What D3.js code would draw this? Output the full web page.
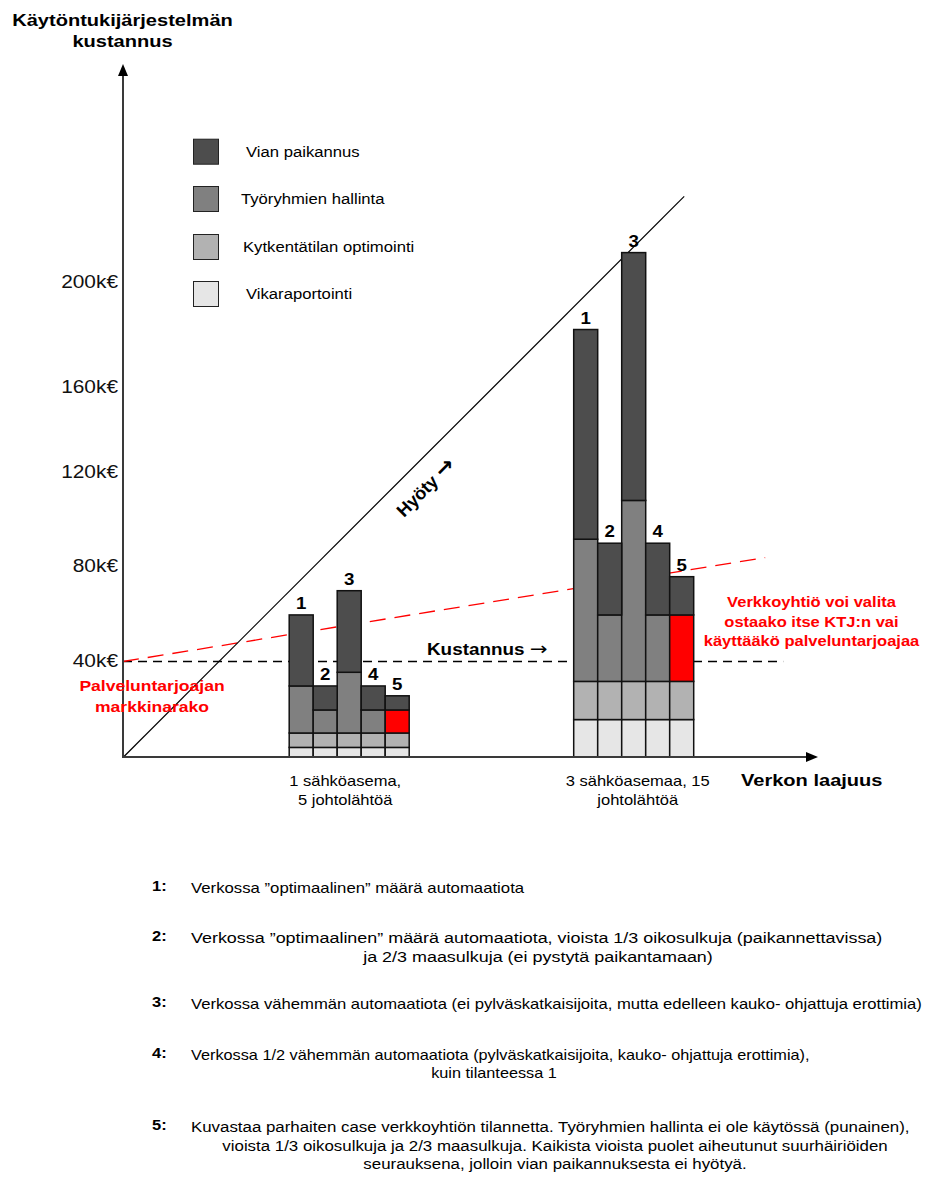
<!DOCTYPE html>
<html>
<head>
<meta charset="utf-8">
<script src="https://cdn.jsdelivr.net/npm/d3@7"></script>
<style>
  html, body { margin: 0; padding: 0; background: #fff; }
  svg { display: block; font-family: "Liberation Sans", Arial, sans-serif; }
</style>
</head>
<body>
<script>
// Network size groups and automation cases
const groups = ["1 sähköasema, 5 johtolähtöä", "3 sähköasemaa, 15 johtolähtöä"];
const groupLines = [["1 sähköasema,", "5 johtolähtöä"], ["3 sähköasemaa, 15", "johtolähtöä"]];
const cases = ["1", "2", "3", "4", "5"];

// Cost components, stacked bottom to top
const series = ["Vikaraportointi", "Kytkentätilan optimointi", "Työryhmien hallinta", "Vian paikannus"];
const legendOrder = ["Vian paikannus", "Työryhmien hallinta", "Kytkentätilan optimointi", "Vikaraportointi"];

// Cost (k€) per case 1..5, one array per group and component
const vikaraportointi = [[4, 4, 4, 4, 4], [15.6, 15.6, 15.6, 15.6, 15.6]];
const kytkentatila = [[6, 6, 6, 6, 6], [15.9, 15.9, 15.9, 15.9, 15.9]];
const tyoryhmat = [[19.6, 9.6, 25.3, 9.6, 9.6], [59.9, 27.9, 76.4, 27.9, 27.9]];
const vianPaikannus = [[29.8, 10, 34.3, 10, 5.9], [90.5, 30.3, 103.3, 30.3, 16.1]];
// Case 5: work-crew management not in use (drawn red)
const redCase = "5";

// Value axis ticks (k€)
const yTicks = [40, 80, 120, 160, 200];

// Reference lines on the network-size axis (0..100) vs cost (k€)
const hyotyLine = [[0, 0], [81.1, 232.8]];
const palveluLine = [[0, 40], [92.8, 83.8]];
const kustannusLine = [[0, 40], [95.4, 40]];

const footnotes = [
  { n: "1:", lines: ["Verkossa ”optimaalinen” määrä automaatiota"] },
  { n: "2:", lines: ["Verkossa ”optimaalinen” määrä automaatiota, vioista 1/3 oikosulkuja (paikannettavissa)",
                     "ja 2/3 maasulkuja (ei pystytä paikantamaan)"] },
  { n: "3:", lines: ["Verkossa vähemmän automaatiota (ei pylväskatkaisijoita, mutta edelleen kauko- ohjattuja erottimia)"] },
  { n: "4:", lines: ["Verkossa 1/2 vähemmän automaatiota (pylväskatkaisijoita, kauko- ohjattuja erottimia),",
                     "kuin tilanteessa 1"] },
  { n: "5:", lines: ["Kuvastaa parhaiten case verkkoyhtiön tilannetta. Työryhmien hallinta ei ole käytössä (punainen),",
                     "vioista 1/3 oikosulkuja ja 2/3 maasulkuja. Kaikista vioista puolet aiheutunut suurhäiriöiden",
                     "seurauksena, jolloin vian paikannuksesta ei hyötyä."] }
];

const W = 925, H = 1177;
const colors = {
  "Vikaraportointi": "#e6e6e6",
  "Kytkentätilan optimointi": "#b2b2b2",
  "Työryhmien hallinta": "#808080",
  "Vian paikannus": "#4d4d4d"
};
const RED = "#ff0000";
const SX = 1.18; // horizontal stretch of the lettering

const svg = d3.select("body").append("svg").attr("width", W).attr("height", H);

// Text helper: places a horizontally widened label at (x, y)
function label(parent, x, y, str, o = {}) {
  return parent.append("text")
    .attr("transform", `translate(${x},${y}) scale(${o.sx || SX},1)`)
    .attr("text-anchor", o.anchor || "start")
    .attr("dy", o.dy || null)
    .attr("font-size", o.size || 14)
    .attr("font-weight", o.weight || null)
    .attr("fill", o.fill || "#000")
    .text(str);
}

// Cost axis: hand-spaced scale
const y = d3.scaleLinear().domain([0, 40, 80, 120, 160, 200]).range([757, 661, 566, 472, 387, 282]);
// Network size axis
const x = d3.scaleLinear().domain([0, 100]).range([123, 815]);
const xGroup = d3.scalePoint().domain(groups).range([349.2, 633.7]);
const xCase = d3.scaleBand().domain(cases).range([-60, 60]).padding(0);

// Build rows for stacking
const rows = [];
groups.forEach((g, gi) => {
  cases.forEach((c, ci) => {
    rows.push({
      group: g, gi, c,
      "Vikaraportointi": vikaraportointi[gi][ci],
      "Kytkentätilan optimointi": kytkentatila[gi][ci],
      "Työryhmien hallinta": tyoryhmat[gi][ci],
      "Vian paikannus": vianPaikannus[gi][ci]
    });
  });
});
const stacked = d3.stack().keys(series)(rows);

// Reference lines
const line = d3.line().x(d => x(d[0])).y(d => y(d[1]) + 0.5);
svg.append("path").attr("d", line(kustannusLine)).attr("fill", "none")
  .attr("stroke", "#000").attr("stroke-width", 1.3).attr("stroke-dasharray", "9,6");
svg.append("path").attr("d", line(palveluLine)).attr("fill", "none")
  .attr("stroke", RED).attr("stroke-width", 1.3).attr("stroke-dasharray", "16,9");
svg.append("path").attr("d", line(hyotyLine)).attr("fill", "none")
  .attr("stroke", "#000").attr("stroke-width", 1.2);

// Stacked bars
const barLayer = svg.append("g");
stacked.forEach(layer => {
  barLayer.selectAll(null).data(layer).enter().append("rect")
    .attr("x", d => xGroup(d.data.group) + xCase(d.data.c))
    .attr("width", xCase.bandwidth())
    .attr("y", d => y(d[1]))
    .attr("height", d => y(d[0]) - y(d[1]))
    .attr("fill", d => (layer.key === "Työryhmien hallinta" && d.data.c === redCase) ? RED : colors[layer.key])
    .attr("stroke", "#111").attr("stroke-width", 1.5);
});

// Case numbers above bars
const topLayer = stacked[stacked.length - 1];
const numLayer = svg.append("g");
topLayer.forEach(d => {
  label(numLayer, xGroup(d.data.group) + xCase(d.data.c) + xCase.bandwidth() / 2, y(d[1]) - 6,
    d.data.c, { anchor: "middle", size: 17, weight: "bold", sx: 1.1 });
});

// Axes with arrowheads
const axisColor = "#3a3a3a";
svg.append("line").attr("x1", x(0)).attr("x2", x(0)).attr("y1", y(0) + 1).attr("y2", 72)
  .attr("stroke", axisColor).attr("stroke-width", 2);
svg.append("path").attr("d", `M${x(0)},64 L${x(0) - 5},76 L${x(0) + 5},76 Z`).attr("fill", "#000");
svg.append("line").attr("x1", x(0) - 1).attr("x2", x(100)).attr("y1", y(0)).attr("y2", y(0))
  .attr("stroke", axisColor).attr("stroke-width", 2);
svg.append("path").attr("d", `M${x(100) + 3},${y(0)} L${x(100) - 9},${y(0) - 5} L${x(100) - 9},${y(0) + 5} Z`).attr("fill", "#000");

// Cost tick labels
const tickLayer = svg.append("g");
yTicks.forEach(v => label(tickLayer, 118, y(v), v + "k€", { anchor: "end", dy: "0.35em", size: 18, fill: "#111", sx: 1.16 }));

// Axis titles
label(svg, 122.5, 26, "Käytöntukijärjestelmän", { anchor: "middle", size: 17, weight: "bold" });
label(svg, 122.5, 47, "kustannus", { anchor: "middle", size: 17, weight: "bold" });
label(svg, 741, 786, "Verkon laajuus", { size: 17, weight: "bold" });

// Group labels
groups.forEach((g, gi) => {
  groupLines[gi].forEach((s, i) => {
    label(svg, xGroup(g) + (gi === 0 ? -4 : 4), 786 + i * 19, s, { anchor: "middle", size: 14 });
  });
});

// Legend
const legend = svg.append("g");
const legX = [246, 241, 243, 246];
legendOrder.forEach((s, i) => {
  const cy = [151.7, 199, 247, 294][i];
  legend.append("rect").attr("x", 193.5).attr("y", cy - 12.5).attr("width", 25).attr("height", 25)
    .attr("fill", colors[s]).attr("stroke", "#222").attr("stroke-width", 1);
  label(legend, legX[i], cy, s, { dy: "0.35em", size: 14.5, sx: 1.15 });
});

// In-chart annotations
const kust = label(svg, 427, 655, "Kustannus ", { size: 16, weight: "bold" });
kust.append("tspan").attr("font-family", "DejaVu Sans").attr("font-weight", "normal").attr("font-size", 18).text("→");
const hy = svg.append("text").attr("transform", "translate(430,492) rotate(-45)").attr("text-anchor", "middle")
  .attr("font-weight", "bold").attr("font-size", 18).text("Hyöty ");
hy.append("tspan").attr("font-family", "DejaVu Sans").attr("font-weight", "bold").attr("font-size", 22).text("→");

label(svg, 152, 691, "Palveluntarjoajan", { anchor: "middle", size: 15, weight: "bold", fill: RED, sx: 1.17 });
label(svg, 152, 712, "markkinarako", { anchor: "middle", size: 15, weight: "bold", fill: RED, sx: 1.17 });
["Verkkoyhtiö voi valita", "ostaako itse KTJ:n vai", "käyttääkö palveluntarjoajaa"].forEach((s, i) => {
  label(svg, 811.5, 607 + i * 19.5, s, { anchor: "middle", size: 14, weight: "bold", fill: RED });
});

// Case descriptions
const fnY = [888, 938, 1004, 1055, 1127];
const fnCenters = [null, 538, null, 494, 555];
const fnSize = [14.2, 15.2, 14.1, 13.8, 14.3];
footnotes.forEach((f, i) => {
  label(svg, 152, fnY[i] - 2, f.n, { dy: "0.35em", size: 15, weight: "bold", sx: 1.1 });
  f.lines.forEach((s, j) => {
    label(svg, j === 0 ? 191 : fnCenters[i], fnY[i] + j * 18.5, s,
      { dy: "0.35em", size: fnSize[i], anchor: j === 0 ? "start" : "middle" });
  });
});
</script>
</body>
</html>
